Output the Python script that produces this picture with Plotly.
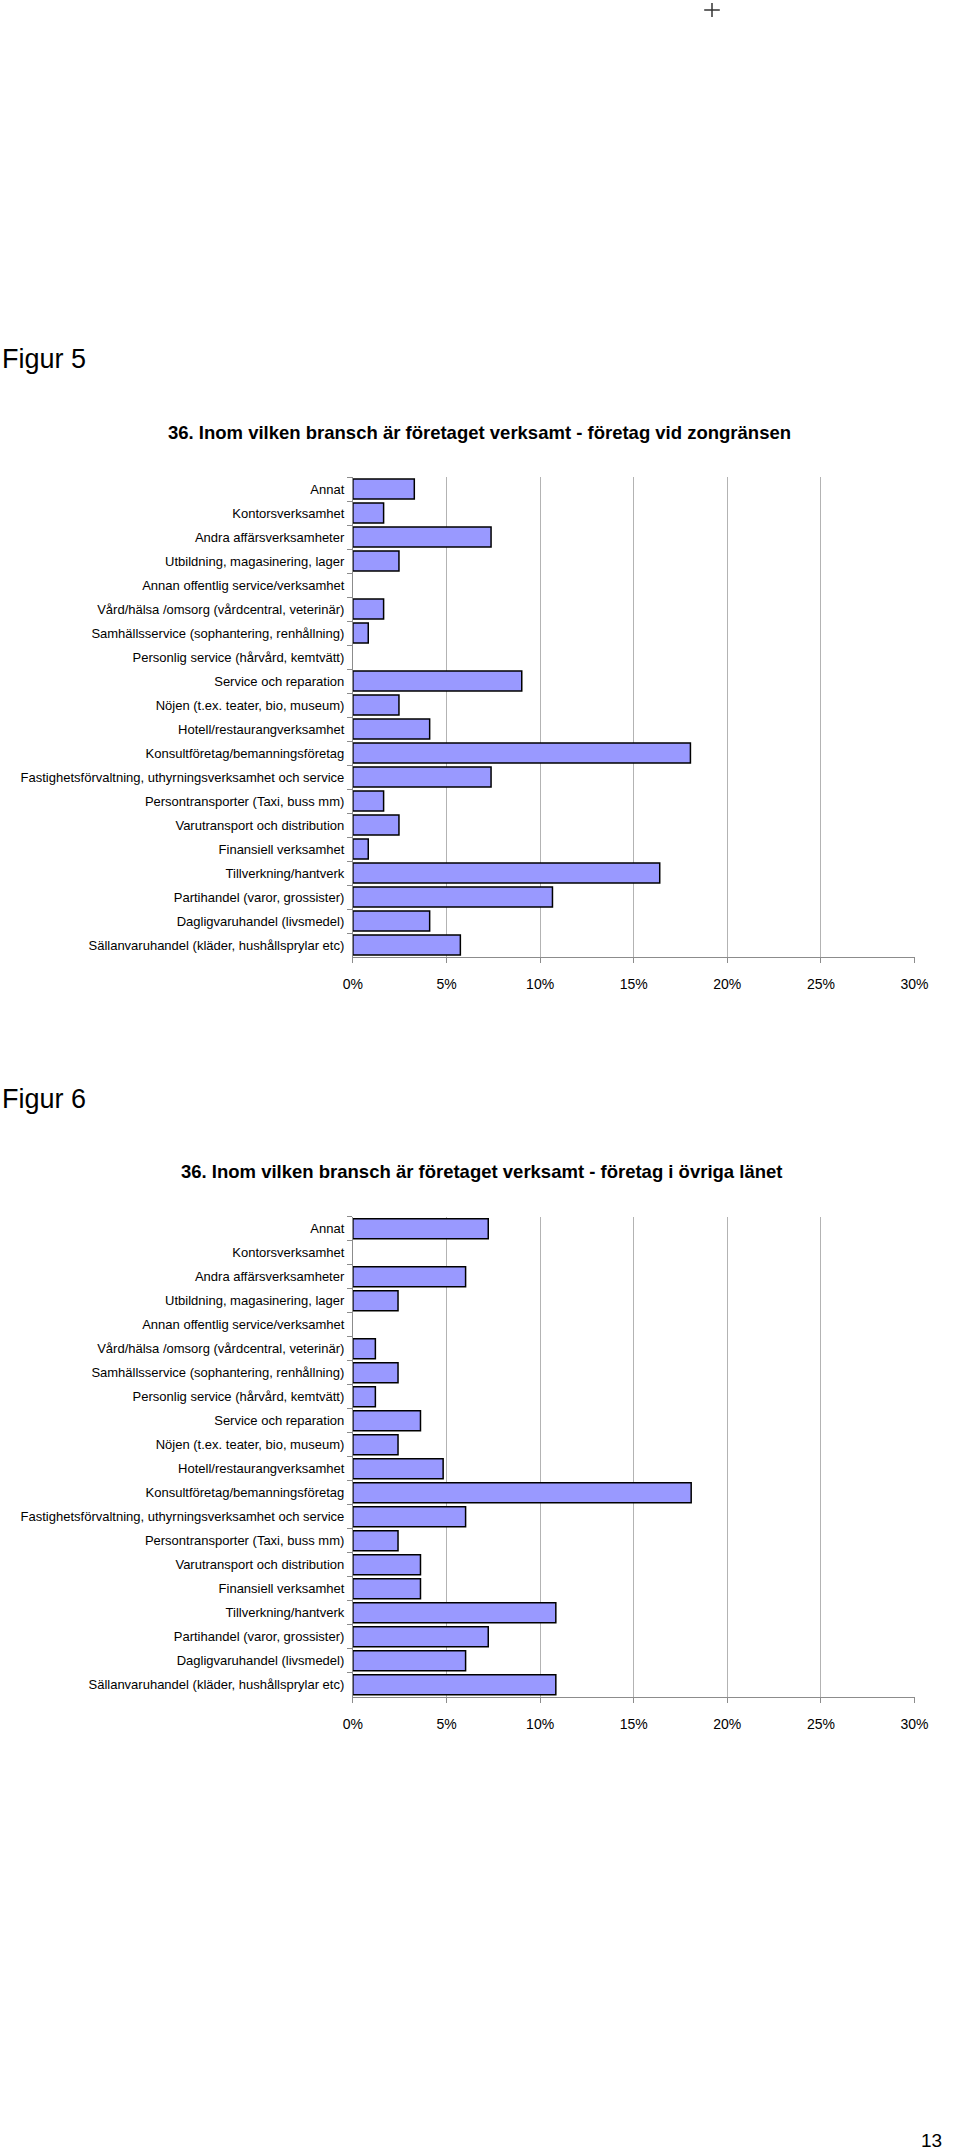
import plotly.graph_objects as go

W, H = 960, 2153

categories = [
    "Annat",
    "Kontorsverksamhet",
    "Andra affärsverksamheter",
    "Utbildning, magasinering, lager",
    "Annan offentlig service/verksamhet",
    "Vård/hälsa /omsorg (vårdcentral, veterinär)",
    "Samhällsservice (sophantering, renhållning)",
    "Personlig service (hårvård, kemtvätt)",
    "Service och reparation",
    "Nöjen (t.ex. teater, bio, museum)",
    "Hotell/restaurangverksamhet",
    "Konsultföretag/bemanningsföretag",
    "Fastighetsförvaltning, uthyrningsverksamhet och service",
    "Persontransporter (Taxi, buss mm)",
    "Varutransport och distribution",
    "Finansiell verksamhet",
    "Tillverkning/hantverk",
    "Partihandel (varor, grossister)",
    "Dagligvaruhandel (livsmedel)",
    "Sällanvaruhandel (kläder, hushållsprylar etc)",
]

zon_values = [3.28, 1.64, 7.38, 2.46, 0.0, 1.64, 0.82, 0.0, 9.02, 2.46,
              4.10, 18.03, 7.38, 1.64, 2.46, 0.82, 16.39, 10.66, 4.10, 5.74]

ovriga_values = [7.23, 0.0, 6.02, 2.41, 0.0, 1.20, 2.41, 1.20, 3.61, 2.41,
                 4.82, 18.07, 6.02, 2.41, 3.61, 3.61, 10.84, 7.23, 6.02, 10.84]

tick_vals = [0, 5, 10, 15, 20, 25, 30]
tick_text = ["0%", "5%", "10%", "15%", "20%", "25%", "30%"]

title1 = "36. Inom vilken bransch är företaget verksamt - företag vid zongränsen"
title2 = "36. Inom vilken bransch är företaget verksamt - företag i övriga länet"

FONT = "Liberation Sans, Arial, sans-serif"
BAR_FILL = "#9999FF"
GRID = "#b3b3b3"
AXLINE = "#8c8c8c"


def py(px):
    return 1 - px / H


def outline_widths(vals):
    # no visible outline for empty (0 %) bars
    return [1.5 if v > 0 else 0 for v in vals]


fig = go.Figure()
fig.add_trace(go.Bar(y=categories, x=zon_values, orientation="h",
                     marker=dict(color=BAR_FILL,
                                 line=dict(color="black", width=outline_widths(zon_values))),
                     xaxis="x", yaxis="y", hoverinfo="skip"))
fig.add_trace(go.Bar(y=categories, x=ovriga_values, orientation="h",
                     marker=dict(color=BAR_FILL,
                                 line=dict(color="black", width=outline_widths(ovriga_values))),
                     xaxis="x2", yaxis="y2", hoverinfo="skip"))

x_dom = [351.7 / W, 927.7 / W]

xcommon = dict(range=[0, 30], tickvals=tick_vals, ticktext=tick_text,
               showgrid=True, gridcolor=GRID, gridwidth=1,
               showline=True, linecolor=AXLINE, linewidth=1,
               ticks="outside", ticklen=5, tickcolor=AXLINE,
               ticklabelstandoff=9,
               tickfont=dict(family=FONT, size=14, color="black"),
               zeroline=False, fixedrange=True, domain=x_dom)
ycommon = dict(autorange="reversed", type="category",
               showline=True, linecolor=AXLINE, linewidth=1,
               ticks="outside", ticklen=5, tickcolor=AXLINE, tickson="boundaries",
               ticklabelstandoff=5,
               showgrid=False, tickfont=dict(family=FONT, size=13, color="black"),
               fixedrange=True)

fig.update_layout(
    width=W, height=H,
    margin=dict(l=0, r=0, t=0, b=0),
    paper_bgcolor="white", plot_bgcolor="white",
    showlegend=False, bargap=0.167,
    xaxis=dict(anchor="y", **xcommon),
    yaxis=dict(anchor="x", domain=[py(957), py(477)], **ycommon),
    xaxis2=dict(anchor="y2", **xcommon),
    yaxis2=dict(anchor="x2", domain=[py(1696.7), py(1216.7)], **ycommon),
)

annotations = [
    dict(text="Figur 5", x=0, y=py(359), xanchor="left", yanchor="middle", xshift=-10,
         font=dict(family=FONT, size=27, color="black")),
    dict(text="<b>" + title1 + "</b>", x=482 / W, y=py(432.5), xanchor="center", yanchor="middle",
         font=dict(family=FONT, size=18.5, color="black")),
    dict(text="Figur 6", x=0, y=py(1099), xanchor="left", yanchor="middle", xshift=-10,
         font=dict(family=FONT, size=27, color="black")),
    dict(text="<b>" + title2 + "</b>", x=483.5 / W, y=py(1171.6), xanchor="center", yanchor="middle",
         font=dict(family=FONT, size=18.5, color="black")),
    dict(text="13", x=958 / W, y=py(2140), xanchor="right", yanchor="middle",
         font=dict(family=FONT, size=19, color="black")),
]
for a in annotations:
    a.update(xref="paper", yref="paper", showarrow=False)
fig.update_layout(annotations=annotations)

fig.update_layout(shapes=[
    dict(type="line", xref="paper", yref="paper", x0=712 / W, x1=728 / W, y0=py(10), y1=py(10),
         line=dict(color="#333333", width=1.5)),
    dict(type="line", xref="paper", yref="paper", x0=720 / W, x1=720 / W, y0=py(3), y1=py(17),
         line=dict(color="#333333", width=1.5)),
])

fig.write_html("out.html",
               config={"displayModeBar": False, "staticPlot": True},
               post_script="document.body.style.margin='0';document.body.style.padding='0';")
